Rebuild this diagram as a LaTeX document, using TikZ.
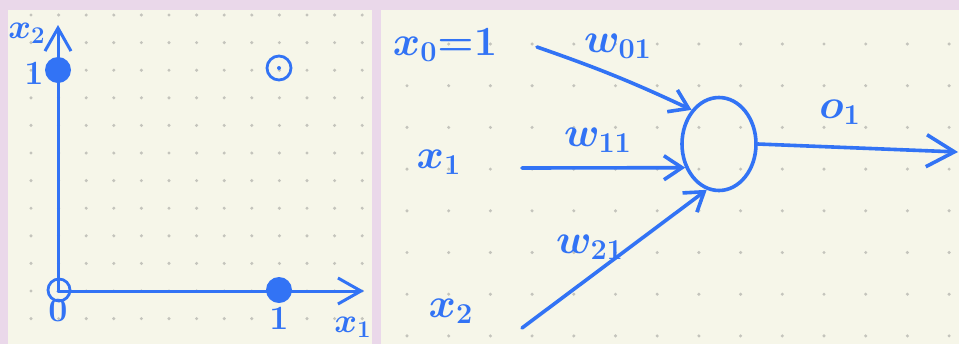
\documentclass[tikz,border=0pt]{standalone}
\usepackage{xcolor}
\definecolor{penblue}{RGB}{50,115,245}
\definecolor{paper}{RGB}{246,246,233}
\definecolor{frame_lilac}{RGB}{234,216,234}
\definecolor{dotgray}{RGB}{196,196,188}
\usepackage{amsmath}
\usetikzlibrary{arrows.meta, shapes.geometric}

\begin{document}
\begin{tikzpicture}[x=0.5pt, y=-0.5pt,
    pen/.style={penblue, line width=1.8pt, line cap=round, line join=round},
    axisline/.style={pen, line width=1.5pt, -{Straight Barb[length=11.5pt, width=13pt]}},
    inarrow/.style={pen, -{Straight Barb[length=9pt, width=12pt]}},
    outarrow/.style={pen, -{Straight Barb[length=14pt, width=16pt]}},
    hand/.style={text=penblue, inner sep=0pt},
    big/.style={hand, font=\fontsize{21}{25}\selectfont\boldmath\bfseries},
    mid/.style={hand, font=\fontsize{20}{24}\selectfont\boldmath\bfseries},
    small/.style={hand, font=\fontsize{17}{20}\selectfont\boldmath\bfseries},
    filled pt/.style={circle, fill=penblue, minimum size=13pt, inner sep=0pt},
    open pt/.style={circle, draw=penblue, line width=1.4pt, minimum size=11pt, inner sep=0pt}]

    % Sheets
    \useasboundingbox (0,0) rectangle (959,344);
    \fill[frame_lilac] (0,0) rectangle (959,344);
    \fill[paper] (8,10) rectangle (372,344);
    \fill[paper] (381,10) rectangle (959,344);

    % Dot grid, left sheet
    \foreach \i in {0,...,12} {
        \foreach \j in {0,...,11} {
            \fill[dotgray] ({31+\i*27.6},{15+\j*27.6}) circle (0.85pt);
        }
    }
    % Dot grid, right sheet
    \foreach \i in {0,...,13} {
        \foreach \j in {0,...,7} {
            \fill[dotgray] ({407+\i*41.7},{44+\j*41.7}) circle (0.85pt);
        }
    }

    % Axes
    \coordinate (orig) at (58,291);
    \coordinate (xtip) at (364,291);
    \coordinate (ytip) at (58,25);
    \draw[axisline] (orig) -- (xtip);
    \draw[axisline] (orig) -- (ytip);
    \node[small] (lx2) at (27,33) {$x_2$};
    \node[small] (lx1) at (353,327) {$x_1$};

    % Points
    \node[open pt] (p00) at (59,290) {};
    \node[filled pt] (p01) at (58,70) {};
    \node[filled pt] (p10) at (279,290) {};
    \node[open pt, minimum size=12pt] (p11) at (279,68) {};
    \fill[penblue] (p11) circle (1pt);
    \node[small] (t0) at (58,311) {0};
    \node[small] (ty1) at (34,73) {1};
    \node[small] (tx1) at (279,318) {1};

    % Inputs
    \node[big] (x0) at (445,45) {$x_0{=}1$};
    \node[big] (x1) at (439,162) {$x_1$};
    \node[big] (x2) at (451,311) {$x_2$};

    % Neuron
    \node[ellipse, draw=penblue, line width=1.8pt, minimum width=37pt, minimum height=46.5pt, inner sep=0pt] (n) at (719,144) {};

    % Connections
    \coordinate (s0) at (537,47);
    \coordinate (s1) at (522,168);
    \coordinate (s2) at (522,328);
    \coordinate (oend) at (958,152);
    \draw[inarrow] (s0) to[bend left=3] (n.north west);
    \draw[inarrow] (s1) -- (n.215);
    \draw[inarrow] (s2) -- (n.255);
    \draw[outarrow] (n.east) -- (oend);

    % Weights and output
    \node[mid] (w01) at (618,46) {$w_{01}$};
    \node[mid] (w11) at (598,140) {$w_{11}$};
    \node[mid] (w21) at (590,247) {$w_{21}$};
    \node[mid] (o1) at (840,112) {$o_1$};
\end{tikzpicture}
\end{document}
